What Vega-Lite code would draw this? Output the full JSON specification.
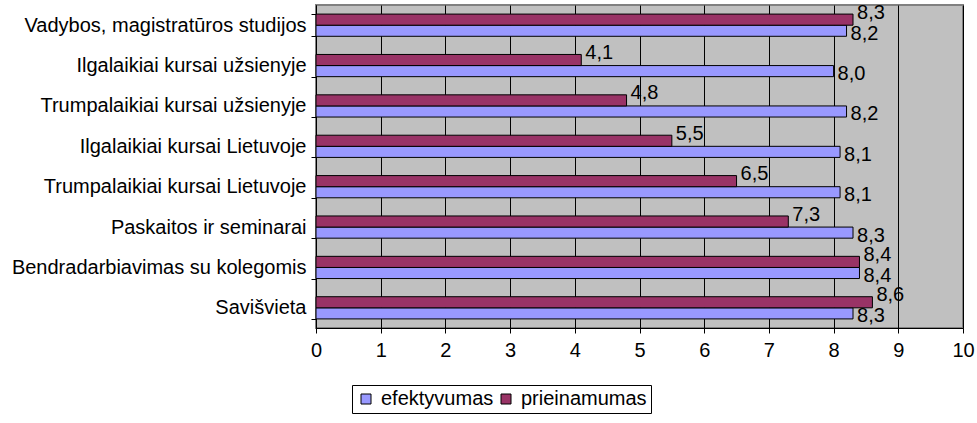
{
  "$schema": "https://vega.github.io/schema/vega-lite/v6.json",
  "width": 647,
  "height": 323,
  "autosize": {"type": "none"},
  "padding": {"left": 316, "top": 5, "right": 14, "bottom": 95},
  "background": "#ffffff",
  "config": {
    "font": "Liberation Sans",
    "view": {"fill": "#C0C0C0", "stroke": "#808080", "strokeWidth": 2},
    "axis": {"labelFont": "Liberation Sans", "labelColor": "#000000", "domainColor": "#000000", "tickColor": "#000000", "labelFontSize": 20, "tickSize": 5, "title": null}
  },
  "data": {
    "values": [
      {"kategorija": "Vadybos, magistratūros studijos", "serija": "efektyvumas", "reiksme": 8.2, "zyme": "8,2"},
      {"kategorija": "Vadybos, magistratūros studijos", "serija": "prieinamumas", "reiksme": 8.3, "zyme": "8,3"},
      {"kategorija": "Ilgalaikiai kursai užsienyje", "serija": "efektyvumas", "reiksme": 8.0, "zyme": "8,0"},
      {"kategorija": "Ilgalaikiai kursai užsienyje", "serija": "prieinamumas", "reiksme": 4.1, "zyme": "4,1"},
      {"kategorija": "Trumpalaikiai kursai užsienyje", "serija": "efektyvumas", "reiksme": 8.2, "zyme": "8,2"},
      {"kategorija": "Trumpalaikiai kursai užsienyje", "serija": "prieinamumas", "reiksme": 4.8, "zyme": "4,8"},
      {"kategorija": "Ilgalaikiai kursai Lietuvoje", "serija": "efektyvumas", "reiksme": 8.1, "zyme": "8,1"},
      {"kategorija": "Ilgalaikiai kursai Lietuvoje", "serija": "prieinamumas", "reiksme": 5.5, "zyme": "5,5"},
      {"kategorija": "Trumpalaikiai kursai Lietuvoje", "serija": "efektyvumas", "reiksme": 8.1, "zyme": "8,1"},
      {"kategorija": "Trumpalaikiai kursai Lietuvoje", "serija": "prieinamumas", "reiksme": 6.5, "zyme": "6,5"},
      {"kategorija": "Paskaitos ir seminarai", "serija": "efektyvumas", "reiksme": 8.3, "zyme": "8,3"},
      {"kategorija": "Paskaitos ir seminarai", "serija": "prieinamumas", "reiksme": 7.3, "zyme": "7,3"},
      {"kategorija": "Bendradarbiavimas su kolegomis", "serija": "efektyvumas", "reiksme": 8.4, "zyme": "8,4"},
      {"kategorija": "Bendradarbiavimas su kolegomis", "serija": "prieinamumas", "reiksme": 8.4, "zyme": "8,4"},
      {"kategorija": "Savišvieta", "serija": "efektyvumas", "reiksme": 8.3, "zyme": "8,3"},
      {"kategorija": "Savišvieta", "serija": "prieinamumas", "reiksme": 8.6, "zyme": "8,6"}
    ]
  },
  "encoding": {
    "y": {
      "field": "kategorija", "type": "nominal", "sort": null,
      "scale": {"paddingInner": 0.45, "paddingOuter": 0.225},
      "axis": {"tickBand": "extent", "labelPadding": 5, "labelLimit": 400, "grid": false}
    },
    "x": {
      "field": "reiksme", "type": "quantitative",
      "scale": {"domain": [0, 10], "nice": false},
      "axis": {"values": [0,1,2,3,4,5,6,7,8,9,10], "grid": true, "gridColor": "#000000", "gridOpacity": 1, "gridWidth": 1, "labelPadding": 7, "labelFlush": false}
    },
    "yOffset": {"field": "serija", "type": "nominal", "sort": ["prieinamumas", "efektyvumas"], "scale": {"domain": ["prieinamumas", "efektyvumas"]}}
  },
  "layer": [
    {
      "mark": {"type": "bar", "stroke": "#000000", "strokeWidth": 1},
      "encoding": {
        "color": {
          "field": "serija", "type": "nominal",
          "scale": {"domain": ["efektyvumas", "prieinamumas"], "range": ["#9999FF", "#993366"]},
          "legend": {
            "title": null, "orient": "none", "direction": "horizontal",
            "legendX": 36, "legendY": 380,
            "symbolType": "square", "symbolSize": 100, "symbolStrokeColor": "#000000", "symbolStrokeWidth": 1,
            "labelFontSize": 20, "labelFont": "Liberation Sans", "labelColor": "#000000",
            "labelOffset": 5, "columnPadding": 2,
            "strokeColor": "#000000", "fillColor": "#ffffff", "padding": 4
          }
        }
      }
    },
    {
      "transform": [{"filter": "datum.serija === 'prieinamumas'"}],
      "mark": {"type": "text", "align": "left", "baseline": "middle", "dx": 4, "dy": -7, "fontSize": 20, "font": "Liberation Sans", "color": "#000000"},
      "encoding": {"text": {"field": "zyme", "type": "nominal"}}
    },
    {
      "transform": [{"filter": "datum.serija === 'efektyvumas'"}],
      "mark": {"type": "text", "align": "left", "baseline": "middle", "dx": 4, "dy": 3, "fontSize": 20, "font": "Liberation Sans", "color": "#000000"},
      "encoding": {"text": {"field": "zyme", "type": "nominal"}}
    }
  ]
}
